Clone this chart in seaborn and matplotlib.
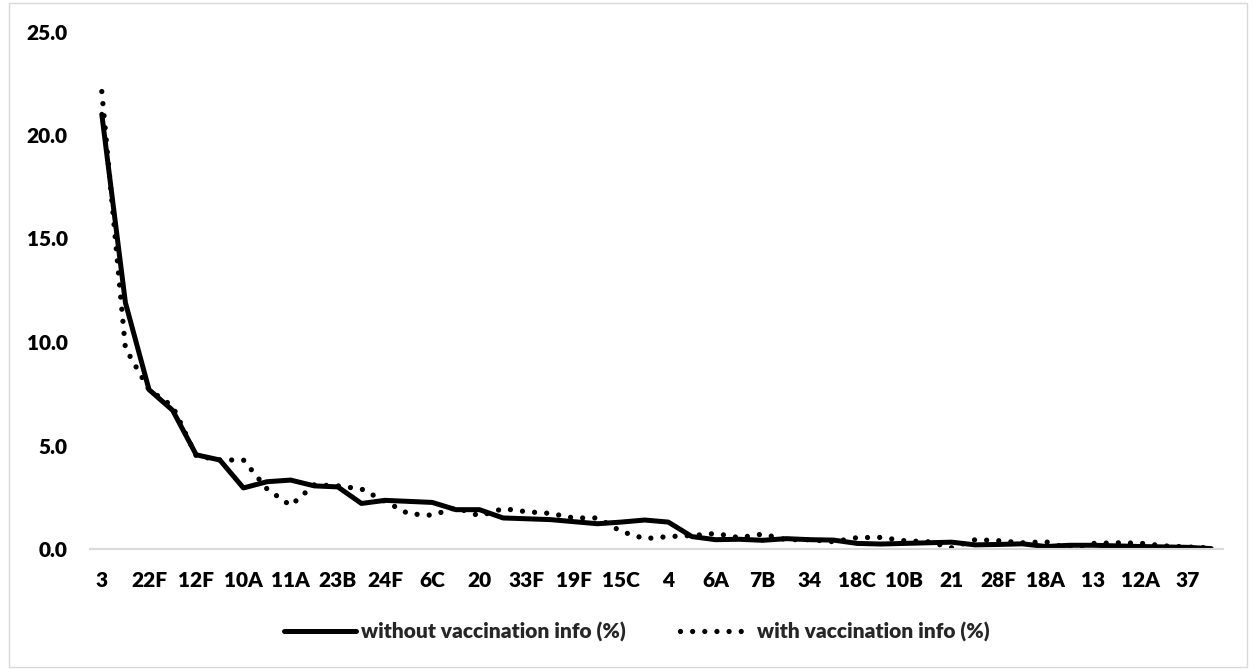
import numpy as np
import pandas as pd
import seaborn as sns
import matplotlib.pyplot as plt
from matplotlib.patches import Rectangle

# serotypes in order of frequency (only every other one is labelled on the axis)
serotypes = ["3", "19A", "22F", "8", "12F", "9N", "10A", "15A", "11A", "35B",
             "23B", "23A", "24F", "15B", "6C", "16F", "20", "31", "33F", "7F",
             "19F", "17F", "15C", "38", "4", "23F", "6A", "35F", "7B", "14",
             "34", "1", "18C", "9V", "10B", "7C", "21", "29", "28F", "6B",
             "18A", "33A", "13", "35A", "12A", "5", "37", "24A"]

without_vacc = [21.0, 11.9, 7.7, 6.7, 4.55, 4.3, 2.95, 3.25, 3.33, 3.05,
                3.0, 2.2, 2.35, 2.3, 2.25, 1.9, 1.9, 1.5, 1.46, 1.42,
                1.32, 1.22, 1.3, 1.4, 1.3, 0.6, 0.45, 0.47, 0.42, 0.5,
                0.45, 0.43, 0.27, 0.24, 0.27, 0.3, 0.33, 0.2, 0.22, 0.25,
                0.12, 0.18, 0.18, 0.15, 0.12, 0.1, 0.08, 0.02]

with_vacc = [22.1, 9.7, 7.7, 6.9, 4.5, 4.3, 4.3, 2.9, 2.1, 3.1,
             3.05, 2.9, 2.3, 1.7, 1.63, 2.0, 1.6, 1.95, 1.8, 1.72,
             1.5, 1.5, 0.85, 0.5, 0.6, 0.65, 0.75, 0.55, 0.72, 0.45,
             0.45, 0.35, 0.55, 0.56, 0.4, 0.35, 0.06, 0.45, 0.4, 0.3,
             0.35, 0.0, 0.27, 0.3, 0.28, 0.15, 0.1, 0.05]

y_ticks = [0, 5, 10, 15, 20, 25]

df = pd.DataFrame({"serotype": serotypes,
                   "pos": np.arange(len(serotypes)),
                   "without": without_vacc,
                   "with": with_vacc})

sns.set_theme(style="white")
plt.rcParams['font.family'] = ['Lato', 'DejaVu Sans']
plt.rcParams['font.weight'] = 'heavy'

W, H = 1255, 669
fig = plt.figure(figsize=(W / 100, H / 100), dpi=100)
ax = fig.add_axes([90 / W, 120 / H, 1133 / W, 517.5 / H])

sns.lineplot(data=df, x="pos", y="without", color="black", linewidth=3.6,
             solid_joinstyle="round", solid_capstyle="round",
             label="without vaccination info (%)", ax=ax)
sns.lineplot(data=df, x="pos", y="with", color="black", linewidth=3.8,
             linestyle=(0, (0.001, 2.3)), dash_capstyle="round",
             label="with vaccination info (%)", ax=ax)

ax.set_xlim(-0.5, len(serotypes) - 0.5)
ax.set_ylim(0, 25)
ax.set_yticks(y_ticks)
ax.set_yticklabels([f"{v:.1f}" for v in y_ticks])
ax.set_xticks(df["pos"][::2])
ax.set_xticklabels(df["serotype"][::2])
ax.tick_params(axis="both", length=0, labelsize=15, colors="black")
ax.tick_params(axis="y", pad=16)
ax.tick_params(axis="x", pad=16)
ax.set_xlabel("")
ax.set_ylabel("")
for s in ["top", "right", "left"]:
    ax.spines[s].set_visible(False)
ax.spines["bottom"].set_color("#d9d9d9")
ax.spines["bottom"].set_linewidth(1.5)

ax.legend(loc="center", bbox_to_anchor=(637 / W, 37 / H),
          bbox_transform=fig.transFigure, ncol=2, frameon=False,
          handlelength=3.45, handletextpad=0.25, columnspacing=2.6,
          fontsize=15)

fig.add_artist(Rectangle((8.5 / W, 2 / H), 1238 / W, 664 / H,
                         transform=fig.transFigure, fill=False,
                         edgecolor="#d9d9d9", linewidth=1))

fig.savefig("out.png", dpi=100)
